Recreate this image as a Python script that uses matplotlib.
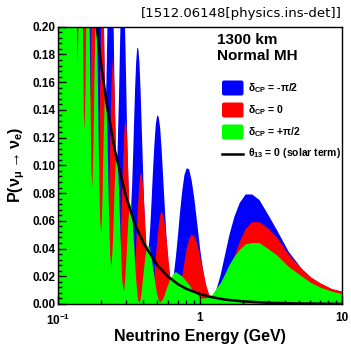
import matplotlib
matplotlib.use('Agg')
import matplotlib.pyplot as plt
from matplotlib.patches import FancyBboxPatch
from matplotlib.lines import Line2D
from matplotlib.ticker import MultipleLocator, LogLocator, NullFormatter

# values (energy in GeV, appearance probability)
energy = [0.1000, 0.1100, 0.1200, 0.1255, 0.1311, 0.1327, 0.1344, 0.1362, 0.1380,
          0.1398, 0.1417, 0.1437, 0.1456, 0.1477, 0.1498, 0.1520, 0.1542, 0.1565,
          0.1589, 0.1613, 0.1639, 0.1665, 0.1691, 0.1719, 0.1748, 0.1777, 0.1808,
          0.1840, 0.1873, 0.1907, 0.1942, 0.1979, 0.2017, 0.2056, 0.2097, 0.2140,
          0.2185, 0.2231, 0.2280, 0.2330, 0.2383, 0.2439, 0.2497, 0.2558, 0.2622,
          0.2689, 0.2760, 0.2834, 0.2913, 0.2954, 0.2996, 0.3040, 0.3084, 0.3130,
          0.3178, 0.3227, 0.3277, 0.3329, 0.3383, 0.3438, 0.3496, 0.3555, 0.3616,
          0.3679, 0.3745, 0.3813, 0.3884, 0.3957, 0.4033, 0.4112, 0.4195, 0.4280,
          0.4369, 0.4462, 0.4559, 0.4661, 0.4767, 0.4877, 0.4994, 0.5115, 0.5243,
          0.5378, 0.5519, 0.5668, 0.5826, 0.5992, 0.6169, 0.6355, 0.6554, 0.6765,
          0.6991, 0.7232, 0.7490, 0.7768, 0.8067, 0.8389, 0.8739, 0.9119, 0.9533,
          0.9987, 1.049, 1.104, 1.165, 1.234, 1.311, 1.398, 1.498, 1.613, 1.748,
          1.907, 2.097, 2.330, 2.622, 2.996, 3.496, 4.195, 5.243, 6.100, 7.000,
          8.500, 10.00]

p_dcp_minus = [0.700, 0.600, 0.500, 0.460, 0.413, 0.484, 0.584, 0.648, 0.634,
               0.543, 0.425, 0.342, 0.336, 0.401, 0.492, 0.551, 0.536, 0.454,
               0.346, 0.272, 0.266, 0.326, 0.409, 0.461, 0.447, 0.372, 0.276,
               0.209, 0.205, 0.259, 0.333, 0.379, 0.367, 0.299, 0.214, 0.155,
               0.152, 0.201, 0.266, 0.306, 0.294, 0.234, 0.159, 0.109, 0.107,
               0.150, 0.207, 0.241, 0.230, 0.207, 0.178, 0.145, 0.113, 0.087,
               0.071, 0.065, 0.071, 0.086, 0.108, 0.133, 0.157, 0.175, 0.185,
               0.184, 0.174, 0.155, 0.129, 0.102, 0.075, 0.054, 0.041, 0.037,
               0.042, 0.055, 0.074, 0.095, 0.114, 0.129, 0.136, 0.135, 0.127,
               0.110, 0.089, 0.067, 0.046, 0.029, 0.019, 0.017, 0.022, 0.034,
               0.049, 0.066, 0.081, 0.093, 0.098, 0.097, 0.089, 0.076, 0.059,
               0.041, 0.025, 0.012, 0.006, 0.005, 0.011, 0.021, 0.035, 0.050, 0.063,
               0.073, 0.079, 0.079, 0.075, 0.065, 0.053, 0.038, 0.025, 0.0188, 0.0148,
               0.0106, 0.0089]

p_dcp_zero = [0.680, 0.560, 0.470, 0.420, 0.321, 0.255, 0.259, 0.323, 0.404,
              0.448, 0.425, 0.346, 0.253, 0.195, 0.200, 0.259, 0.331, 0.368,
              0.346, 0.275, 0.193, 0.143, 0.150, 0.203, 0.265, 0.297, 0.276,
              0.212, 0.140, 0.099, 0.107, 0.154, 0.209, 0.234, 0.214, 0.157,
              0.097, 0.063, 0.073, 0.115, 0.160, 0.179, 0.159, 0.111, 0.061,
              0.036, 0.047, 0.083, 0.119, 0.130, 0.132, 0.127, 0.113, 0.094,
              0.072, 0.051, 0.033, 0.021, 0.017, 0.019, 0.029, 0.043, 0.060,
              0.075, 0.087, 0.094, 0.094, 0.087, 0.075, 0.059, 0.042, 0.026,
              0.014, 0.007, 0.006, 0.010, 0.020, 0.032, 0.045, 0.056, 0.064,
              0.067, 0.064, 0.057, 0.046, 0.033, 0.020, 0.010, 0.003, 0.001,
              0.003, 0.010, 0.020, 0.030, 0.040, 0.047, 0.050, 0.049, 0.044,
              0.035, 0.025, 0.014, 0.006, 0.001, 0.000, 0.004, 0.012, 0.022, 0.034,
              0.045, 0.054, 0.059, 0.059, 0.055, 0.048, 0.036, 0.025, 0.0190, 0.0152,
              0.0108, 0.0090]

p_dcp_plus = [0.720, 0.580, 0.460, 0.440, 0.413, 0.350, 0.259, 0.189, 0.174,
              0.217, 0.287, 0.337, 0.336, 0.280, 0.200, 0.138, 0.125, 0.162,
              0.223, 0.267, 0.266, 0.219, 0.150, 0.096, 0.084, 0.115, 0.167,
              0.205, 0.205, 0.165, 0.107, 0.061, 0.051, 0.076, 0.119, 0.151,
              0.152, 0.120, 0.073, 0.035, 0.026, 0.046, 0.080, 0.106, 0.107,
              0.083, 0.047, 0.017, 0.009, 0.014, 0.023, 0.035, 0.048, 0.060,
              0.068, 0.072, 0.071, 0.064, 0.054, 0.042, 0.029, 0.017, 0.008,
              0.002, 0.001, 0.003, 0.009, 0.017, 0.025, 0.033, 0.039, 0.042,
              0.042, 0.039, 0.034, 0.027, 0.020, 0.013, 0.007, 0.003, 0.001,
              0.002, 0.004, 0.007, 0.011, 0.014, 0.018, 0.020, 0.022, 0.023,
              0.022, 0.021, 0.020, 0.018, 0.016, 0.014, 0.011, 0.009, 0.007,
              0.005, 0.004, 0.004, 0.005, 0.007, 0.011, 0.015, 0.021, 0.028, 0.034,
              0.039, 0.043, 0.044, 0.044, 0.040, 0.035, 0.027, 0.0197, 0.0150, 0.0120,
              0.0089, 0.0072]

solar_energy = [0.17, 0.18, 0.20, 0.22, 0.25, 0.30, 0.35, 0.40, 0.50, 0.60, 0.70,
                0.80, 1.0, 1.2, 1.5, 2.0, 3.0, 5.0, 10.0]
p_solar = [0.242, 0.216, 0.175, 0.145, 0.112, 0.078, 0.057, 0.044, 0.028, 0.0195,
           0.0143, 0.0110, 0.0072, 0.0050, 0.0032, 0.0019, 0.0009, 0.0004, 0.0001]

legend_labels = [r'$\delta_{CP}$ = -$\pi$/2', r'$\delta_{CP}$ = 0',
                 r'$\delta_{CP}$ = +$\pi$/2', r'$\theta_{13}$ = 0 (solar term)']
colors = ['#0000ff', '#ff0000', '#00ff00']

plt.rcParams['font.family'] = ['Liberation Sans', 'DejaVu Sans']
plt.rcParams['font.weight'] = 'bold'
plt.rcParams['mathtext.fontset'] = 'custom'
plt.rcParams['mathtext.rm'] = 'Liberation Sans:bold'
plt.rcParams['mathtext.it'] = 'Liberation Sans:bold'
plt.rcParams['mathtext.bf'] = 'Liberation Sans:bold'
plt.rcParams['mathtext.default'] = 'rm'

W, H = 351, 345
fig = plt.figure(figsize=(W / 100, H / 100), dpi=100)
ax = fig.add_axes([58 / W, 41 / H, 284 / W, 277.3 / H])

for p, c in zip([p_dcp_minus, p_dcp_zero, p_dcp_plus], colors):
    ax.fill_between(energy, 0, p, color=c, lw=0)
ax.plot(solar_energy, p_solar, color='black', lw=1.8)

ax.set_xscale('log')
ax.set_xlim(0.1, 10)
ax.set_ylim(0, 0.2)
ax.set_xticks([0.1, 1, 10])
ax.set_xticklabels([r'$10^{-1}$', '1', '10'])
ax.xaxis.set_minor_locator(LogLocator(base=10, subs=range(2, 10)))
ax.xaxis.set_minor_formatter(NullFormatter())
yt = [0.00, 0.02, 0.04, 0.06, 0.08, 0.10, 0.12, 0.14, 0.16, 0.18, 0.20]
ax.set_yticks(yt)
ax.set_yticklabels(['%.2f' % v for v in yt])
ax.yaxis.set_minor_locator(MultipleLocator(0.004))
ax.tick_params(which='both', direction='in', top=False, right=False, width=1,
               labelsize=8.5)
ax.tick_params(which='major', length=6)
ax.tick_params(which='minor', length=3)
ax.tick_params(axis='y', pad=2)
ax.tick_params(axis='x', pad=6)
for s in ax.spines.values():
    s.set_linewidth(1)
ax.set_axisbelow(False)

fig.text(200 / W, 1 - 341 / H, 'Neutrino Energy (GeV)', ha='center',
         va='baseline', fontsize=11.5)
fig.text(17 / W, 1 - 165 / H, r'P($\nu_{\mu}\rightarrow\nu_{e}$)', rotation=90,
         ha='center', va='center', fontsize=11.5)

fig.text(217 / W, 1 - 40 / H, '1300 km', ha='left', va='center', fontsize=11)
fig.text(217 / W, 1 - 56 / H, 'Normal MH', ha='left', va='center', fontsize=11)

box_y = [88, 110, 132]
for yc, c, lab in zip(box_y, colors, legend_labels[:3]):
    fig.patches.append(FancyBboxPatch((222 / W, 1 - (yc + 7.5) / H), 21.5 / W, 15 / H,
                                      boxstyle='round,pad=0,rounding_size=0.006',
                                      transform=fig.transFigure, color=c, lw=0))
    fig.text(248 / W, 1 - yc / H, lab, ha='left', va='center', fontsize=7.5)
fig.lines.append(Line2D([222 / W, 243 / W], [1 - 153.5 / H, 1 - 153.5 / H],
                        transform=fig.transFigure, color='black', lw=1.8))
fig.text(248 / W, 1 - 153 / H, legend_labels[3], ha='left', va='center', fontsize=7.5)

fig.text(342 / W, 1 - 13.5 / H, '[1512.06148[physics.ins-det]]', ha='right',
         va='center', fontsize=9.5, fontweight='normal', family=['DejaVu Sans'])

fig.savefig('out.png', dpi=100)
